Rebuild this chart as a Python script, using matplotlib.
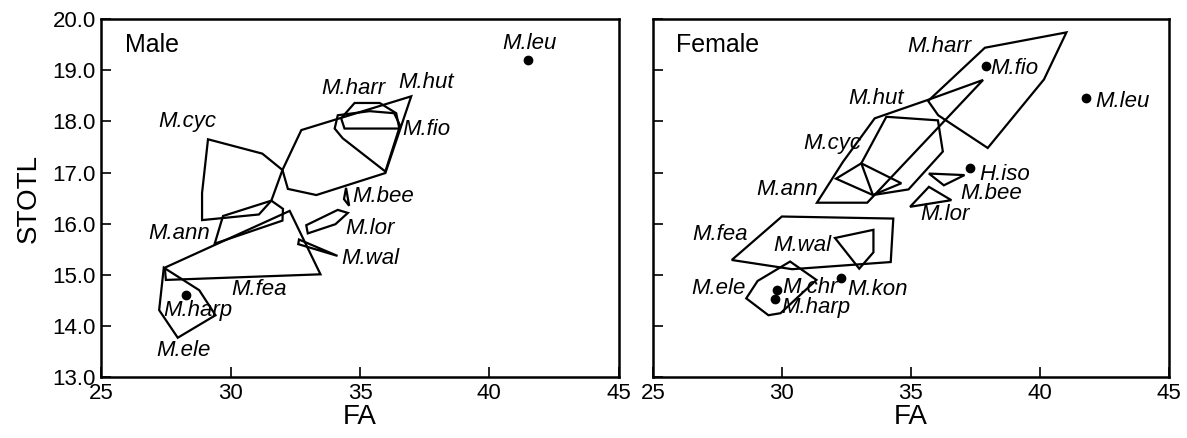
import matplotlib
matplotlib.use("Agg")
import matplotlib.pyplot as plt
from matplotlib.patches import Polygon

plt.rcParams['font.family'] = ['Liberation Sans', 'DejaVu Sans']

# convex hulls (FA, STOTL) for the male sample
male_cyc = [(29.12, 17.65), (31.22, 17.37), (32.00, 17.05), (31.57, 16.45),
            (31.09, 16.18), (28.89, 16.07), (28.89, 16.60)]
male_ann = [(29.70, 16.15), (31.57, 16.45), (32.02, 16.29), (32.00, 16.06), (29.38, 15.61)]
male_fea = [(27.45, 15.14), (32.28, 16.25), (33.47, 15.01), (27.49, 14.90)]
male_ele = [(27.41, 15.14), (28.78, 14.70), (29.41, 14.21), (27.95, 13.77), (27.23, 14.31)]
male_hut = [(32.00, 17.05), (32.73, 17.83), (36.98, 18.49), (35.98, 16.99),
            (33.31, 16.56), (32.21, 16.68)]
male_harr = [(34.79, 18.36), (35.76, 18.36), (36.40, 18.16), (36.52, 17.86),
             (34.40, 17.86), (34.27, 18.06)]
male_fio = [(34.14, 18.12), (35.37, 18.20), (36.32, 18.16), (36.55, 17.92),
            (35.98, 17.02), (34.33, 17.67), (34.02, 17.86)]
male_bee = [(34.46, 16.70), (34.38, 16.48), (34.58, 16.35)]
male_lor = [(34.14, 16.27), (34.53, 16.21), (34.05, 15.99), (32.98, 15.81), (32.92, 15.97)]
male_wal = [(32.64, 15.69), (34.13, 15.37), (32.61, 15.60)]
male_points = {'M.leu': (41.49, 19.21), 'M.harp': (28.25, 14.60)}

# convex hulls for the female sample
female_harr = [(37.87, 19.44), (41.03, 19.74), (40.16, 18.82), (37.98, 17.48),
               (36.06, 18.12), (35.67, 18.40)]
female_hut = [(33.60, 18.06), (35.66, 18.42), (37.80, 18.81), (33.31, 16.41),
              (31.36, 16.41), (32.37, 17.21)]
female_cyc = [(34.05, 18.09), (36.05, 18.02), (36.24, 17.41), (34.91, 16.67),
              (33.53, 16.56), (33.08, 17.18)]
female_ann = [(32.10, 16.88), (33.08, 17.18), (34.63, 16.79), (33.53, 16.56)]
female_bee = [(35.70, 16.98), (37.08, 16.95), (36.28, 16.75)]
female_lor = [(35.70, 16.72), (36.57, 16.46), (34.97, 16.33)]
female_fea = [(28.06, 15.29), (30.00, 16.14), (34.32, 16.10), (34.22, 15.25), (30.40, 15.11)]
female_wal = [(32.06, 15.72), (33.55, 15.88), (33.55, 15.44), (33.00, 15.12)]
female_ele = [(30.32, 15.26), (31.34, 14.90), (29.95, 14.25), (29.48, 14.21),
              (28.62, 14.54), (29.06, 14.88)]
female_points = {'M.fio': (37.90, 19.08), 'M.leu': (41.78, 18.45), 'H.iso': (37.30, 17.09),
                 'M.chr': (29.83, 14.70), 'M.harp': (29.72, 14.52), 'M.kon': (32.30, 14.94)}

x_ticks = [25, 30, 35, 40, 45]
y_ticks = [13.0, 14.0, 15.0, 16.0, 17.0, 18.0, 19.0, 20.0]

# where each species name is written
male_labels = [('M.leu', 41.57, 19.52), ('M.harr', 34.75, 18.64), ('M.hut', 37.56, 18.76),
               ('M.cyc', 28.33, 17.99), ('M.fio', 37.58, 17.84), ('M.bee', 35.91, 16.54),
               ('M.lor', 35.39, 15.91), ('M.ann', 28.02, 15.80), ('M.wal', 35.39, 15.31),
               ('M.fea', 31.09, 14.72), ('M.harp', 28.73, 14.30), ('M.ele', 28.16, 13.53)]
female_labels = [('M.harr', 36.09, 19.46), ('M.fio', 39.03, 19.04), ('M.hut', 33.67, 18.45),
                 ('M.leu', 43.19, 18.38), ('M.cyc', 31.94, 17.57), ('H.iso', 38.63, 16.96),
                 ('M.ann', 30.20, 16.66), ('M.bee', 38.12, 16.59), ('M.lor', 36.31, 16.17),
                 ('M.fea', 27.59, 15.78), ('M.wal', 30.81, 15.57), ('M.ele', 27.55, 14.73),
                 ('M.chr', 31.08, 14.76), ('M.kon', 33.72, 14.72), ('M.harp', 31.31, 14.36)]


def draw_panel(ax, hulls, points, labels, title):
    for hull in hulls:
        ax.add_patch(Polygon(hull, closed=True, fill=False, edgecolor='black',
                             linewidth=1.6, joinstyle='miter'))
    for fa, st in points.values():
        ax.plot(fa, st, 'o', color='black', markersize=6)
    for name, fa, st in labels:
        ax.text(fa, st, name, style='italic', fontsize=16, ha='center', va='center')
    ax.text(0.045, 0.96, title, transform=ax.transAxes, fontsize=18, ha='left', va='top')
    ax.set_xlim(25, 45)
    ax.set_ylim(13, 20)
    ax.set_xticks(x_ticks)
    ax.set_yticks(y_ticks)
    ax.tick_params(direction='in', length=7, width=1.2, labelsize=16, pad=4)
    ax.tick_params(top=False, right=False)
    for s in ax.spines.values():
        s.set_linewidth(1.8)
    ax.set_xlabel('FA', fontsize=20, labelpad=0)


fig = plt.figure(figsize=(11.87, 4.38), dpi=100)
ax1 = fig.add_axes([0.0855, 0.139, 0.4356, 0.8174])
ax2 = fig.add_axes([0.55, 0.139, 0.4347, 0.8174])

draw_panel(ax1, [male_cyc, male_ann, male_fea, male_ele, male_hut, male_harr,
                 male_fio, male_bee, male_lor, male_wal],
           male_points, male_labels, 'Male')
draw_panel(ax2, [female_harr, female_hut, female_cyc, female_ann, female_bee,
                 female_lor, female_fea, female_wal, female_ele],
           female_points, female_labels, 'Female')

ax1.set_yticklabels([f'{v:.1f}' for v in y_ticks])
ax1.set_ylabel('STOTL', fontsize=20, labelpad=8)
ax2.set_yticklabels([])

fig.savefig('out.png', dpi=100)
